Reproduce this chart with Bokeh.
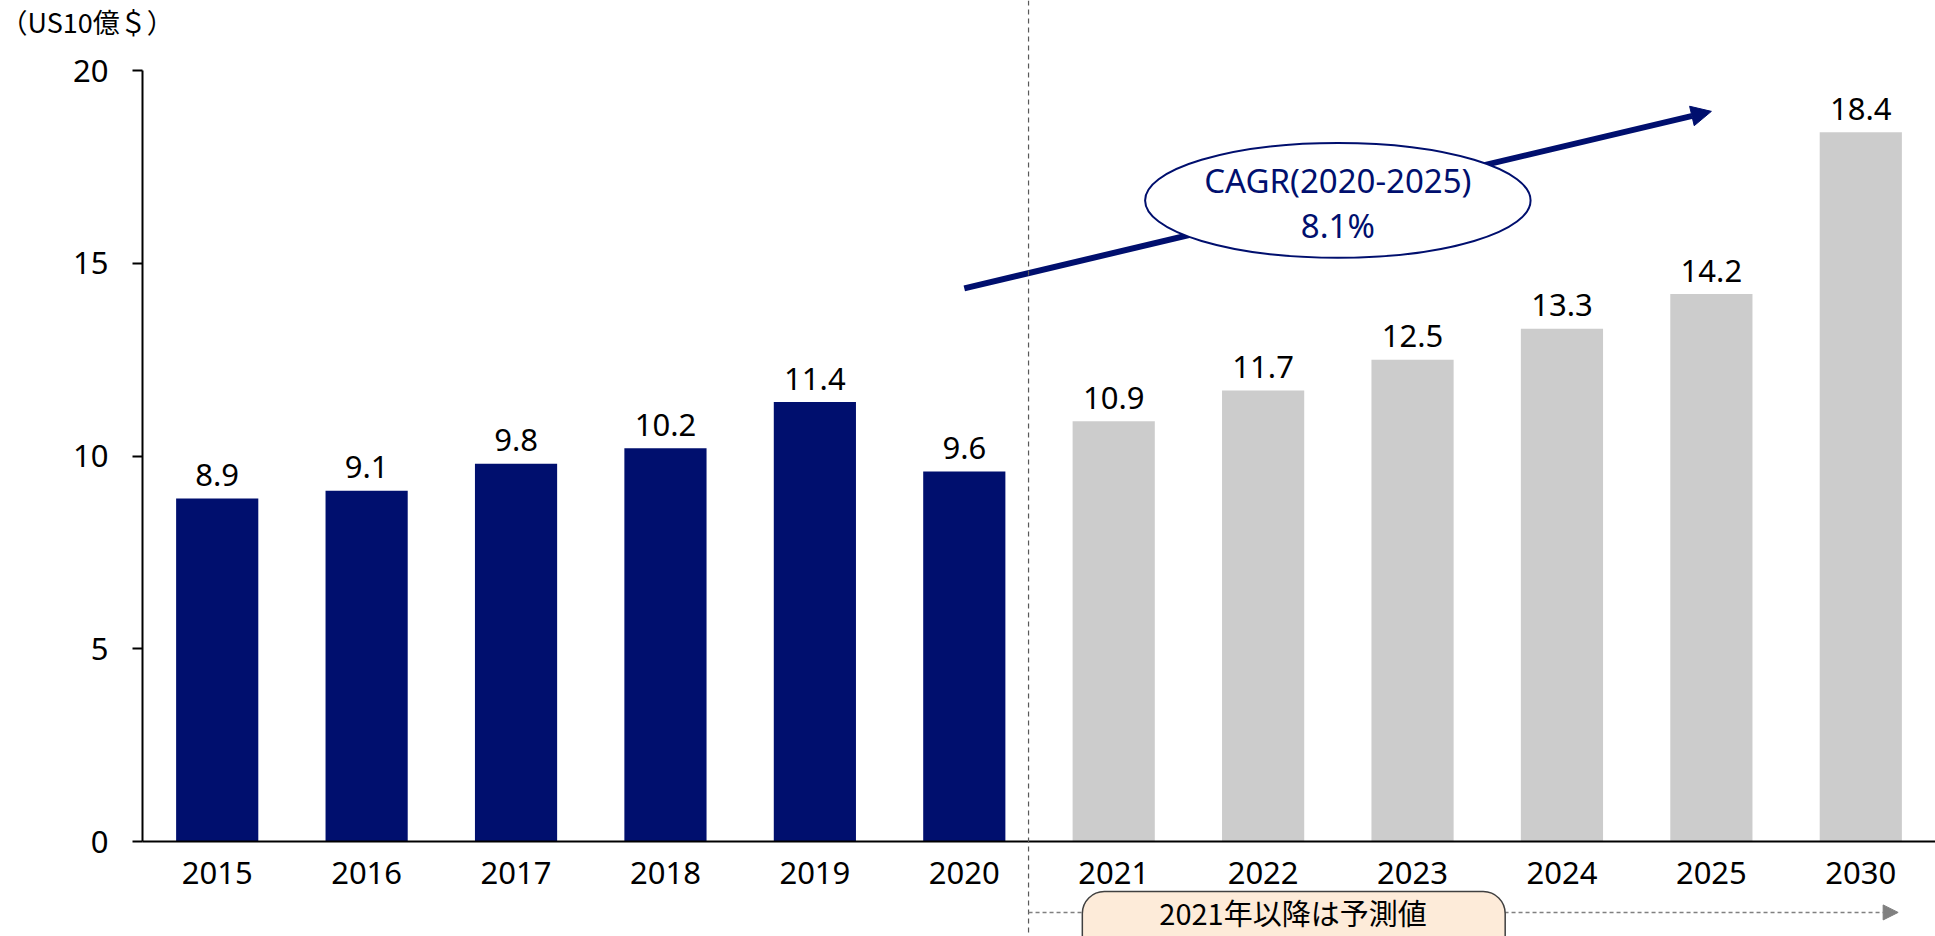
from bokeh.plotting import figure
from bokeh.models import (FixedTicker, Label, Arrow, NormalHead, ColumnDataSource,
                          Span, BoxAnnotation)
from bokeh.core.properties import value
from bokeh.embed import file_html
from bokeh.resources import INLINE

# ---- data ----
years = ["2015", "2016", "2017", "2018", "2019", "2020",
         "2021", "2022", "2023", "2024", "2025", "2030"]
values = [8.9, 9.1, 9.8, 10.2, 11.4, 9.6, 10.9, 11.7, 12.5, 13.3, 14.2, 18.4]
is_forecast = [False] * 6 + [True] * 6
y_ticks = [0, 5, 10, 15, 20]
unit_label = "（US10億＄）"
forecast_note = "2021年以降は予測値"
cagr_title = "CAGR(2020-2025)"
cagr_value = "8.1%"

# ---- styles / layout ----
NAVY = "#000F6E"
GRAY = "#CCCCCC"
NUM_FONT = "Noto Sans"
JP_FONT = "Noto Sans CJK JP"
W, H = 1935, 936
AXIS_LEFT_PX, AXIS_TOP_PX, AXIS_BOTTOM_PX = 142, 70, 841
Y_MAX = 20
X_LO, X_HI = -0.5, len(years) - 0.5

px_per_x = (W - AXIS_LEFT_PX) / (X_HI - X_LO)
px_per_y = (AXIS_BOTTOM_PX - AXIS_TOP_PX) / Y_MAX
x_start = X_LO - AXIS_LEFT_PX / px_per_x
y_top = Y_MAX + AXIS_TOP_PX / px_per_y
y_bottom = -(H - AXIS_BOTTOM_PX) / px_per_y

idx = list(range(len(years)))
colors = [GRAY if f else NAVY for f in is_forecast]
labels = [f"{v:.1f}" for v in values]
label_y = [v + 23.5 / px_per_y for v in values]
src = ColumnDataSource(dict(x=idx, top=values, color=colors, label=labels, ly=label_y))

p = figure(width=W, height=H, output_backend="svg", toolbar_location=None,
           x_range=(x_start, X_HI), y_range=(y_bottom, y_top),
           min_border=0, min_border_left=0, min_border_right=0,
           min_border_top=0, min_border_bottom=0)
p.grid.visible = False
p.outline_line_color = None
p.background_fill_color = "white"
p.border_fill_color = "white"

# x axis
p.xaxis.fixed_location = 0
p.xaxis.bounds = (X_LO, X_HI)
p.xaxis.ticker = FixedTicker(ticks=idx)
p.xaxis.major_label_overrides = {i: y for i, y in zip(idx, years)}
p.xaxis.major_tick_line_color = None
p.xaxis.minor_tick_line_color = None
p.xaxis.axis_line_color = "black"
p.xaxis.axis_line_width = 2
p.xaxis.major_label_text_font = NUM_FONT
p.xaxis.major_label_text_font_size = "31px"
p.xaxis.major_label_text_color = "black"
p.xaxis.major_label_standoff = 14

# y axis
p.yaxis.fixed_location = X_LO
p.yaxis.bounds = (0, Y_MAX)
p.yaxis.ticker = FixedTicker(ticks=y_ticks)
p.yaxis.minor_tick_line_color = None
p.yaxis.major_tick_out = 10
p.yaxis.major_tick_in = 0
p.yaxis.major_tick_line_width = 2
p.yaxis.major_tick_line_color = "black"
p.yaxis.axis_line_color = "black"
p.yaxis.axis_line_width = 2
p.yaxis.major_label_text_font = NUM_FONT
p.yaxis.major_label_text_font_size = "31px"
p.yaxis.major_label_text_color = "black"
p.yaxis.major_label_standoff = 24

# bars
p.vbar(x="x", top="top", bottom=0, width=0.55, fill_color="color",
       line_color=None, source=src)

# value labels
p.text(x="x", y="ly", text="label", source=src, text_align="center",
       text_baseline="alphabetic",
       text_font=value(NUM_FONT), text_font_size="31px", text_color="black")

# CAGR arrow (behind the ellipse)
i20 = years.index("2020")
i25 = years.index("2025")
p.add_layout(Arrow(end=NormalHead(size=20, fill_color=NAVY, line_color=NAVY),
                   x_start=i20, y_start=14.35, x_end=i25, y_end=18.94,
                   line_color=NAVY, line_width=6, level="underlay"))

cx = (i20 + i25) / 2
p.ellipse(x=[cx], y=[16.63], width=[2.58], height=[2.98],
          fill_color="white", line_color=NAVY, line_width=2)
p.text(x=[cx, cx], y=[17.15, 15.98], text=[cagr_title, cagr_value],
       text_align="center", text_baseline="middle",
       text_font=value(NUM_FONT), text_font_size="33px", text_color=NAVY)

# forecast divider
div_x = 5.43
p.add_layout(Span(location=div_x, dimension="height", line_color="#595959",
                  line_width=1.2, line_dash="5 4"))

# forecast note arrow + rounded box + text
note_y = -1.84
p.add_layout(Arrow(end=NormalHead(size=15, fill_color="#808080", line_color="#808080"),
                   x_start=div_x, y_start=note_y, x_end=11.25, y_end=note_y,
                   line_color="#808080", line_width=1.5, line_dash="4 3"))
p.add_layout(BoxAnnotation(left=5.79, right=8.62, top=-1.30, bottom=y_bottom - 1.0,
                           fill_color="#FDEBD9", fill_alpha=1.0,
                           line_color="#404040", line_alpha=1.0, line_width=1.5,
                           border_radius=22))
p.add_layout(Label(x=7.2, y=note_y, text=forecast_note, text_align="center",
                   text_baseline="middle", text_font=JP_FONT,
                   text_font_size="29px", text_color="black"))

# unit label
p.add_layout(Label(x=x_start, y=21.28, text=unit_label, text_align="left",
                   text_baseline="middle", text_font=JP_FONT,
                   text_font_size="27px", text_color="black"))

open("out.html", "w").write(file_html(p, INLINE))
